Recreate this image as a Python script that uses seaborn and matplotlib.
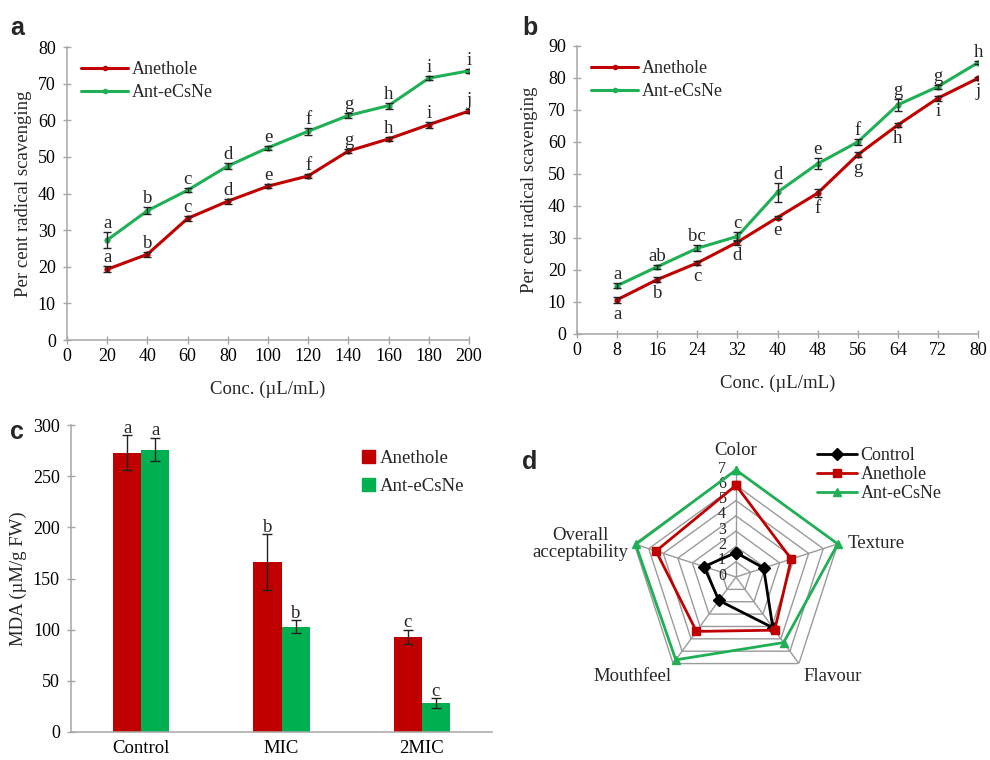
import numpy as np
import pandas as pd
import matplotlib
matplotlib.use("Agg")
import matplotlib.pyplot as plt
from matplotlib.lines import Line2D
from matplotlib.patches import Patch
import seaborn as sns

# ---------------- data ----------------
series_names = ["Anethole", "Ant-eCsNe"]

# panel a
conc_a = [20, 40, 60, 80, 100, 120, 140, 160, 180, 200]
a_anethole = [19.3, 23.4, 33.2, 37.9, 42.0, 44.8, 51.6, 54.9, 58.8, 62.5]
a_anethole_err = [0.8, 0.7, 0.6, 0.7, 0.5, 0.5, 0.6, 0.6, 0.8, 0.5]
a_ant = [27.3, 35.3, 40.9, 47.5, 52.5, 57.0, 61.3, 64.0, 71.5, 73.5]
a_ant_err = [2.2, 1.0, 0.6, 0.7, 0.5, 1.0, 0.8, 0.8, 0.5, 0.5]
a_anethole_letters = ["a", "b", "c", "d", "e", "f", "g", "h", "i", "j"]
a_ant_letters = ["a", "b", "c", "d", "e", "f", "g", "h", "i", "i"]

# panel b
conc_b = [8, 16, 24, 32, 40, 48, 56, 64, 72, 80]
b_anethole = [10.7, 17.0, 22.2, 28.7, 36.4, 44.0, 56.0, 65.3, 73.7, 79.9]
b_anethole_err = [1.0, 0.7, 0.7, 0.8, 0.6, 1.2, 0.8, 0.6, 0.8, 0.5]
b_ant = [15.1, 21.0, 26.8, 30.5, 44.3, 53.2, 60.0, 71.6, 77.3, 84.8]
b_ant_err = [0.8, 0.7, 1.0, 1.5, 2.9, 1.7, 1.0, 1.8, 0.6, 0.5]
b_anethole_letters = ["a", "b", "c", "d", "e", "f", "g", "h", "i", "j"]
b_ant_letters = ["a", "ab", "bc", "c", "d", "e", "f", "g", "g", "h"]

# panel c
treatments = ["Control", "MIC", "2MIC"]
c_anethole = [273, 166, 93]
c_anethole_err = [17, 27, 7]
c_ant = [276, 103, 28]
c_ant_err = [11.5, 6, 5]
c_anethole_letters = ["a", "b", "c"]
c_ant_letters = ["a", "b", "c"]

# panel d
attributes = ["Color", "Texture", "Flavour", "Mouthfeel", "Overall\nacceptability"]
radar_series = ["Control", "Anethole", "Ant-eCsNe"]
d_control = [1.6, 1.9, 4.1, 1.9, 2.2]
d_anethole = [6.0, 3.8, 4.3, 4.4, 5.5]
d_ant = [7.0, 7.0, 5.3, 6.7, 6.9]
radar_ticks = [0, 1, 2, 3, 4, 5, 6, 7]

RED = "#C00000"
GREEN = "#1FAF55"
BAR_GREEN = "#00B050"
AXGRAY = "#A6A6A6"

TICK_FS = 13
LABEL_FS = 13.5
LEG_FS = 13
LET_FS = 13.5

# ---------------- style ----------------
sns.set_style("ticks")
plt.rcParams["font.family"] = ["Liberation Serif", "DejaVu Serif"]
plt.rcParams["font.size"] = 12
plt.rcParams["axes.edgecolor"] = AXGRAY
plt.rcParams["xtick.color"] = AXGRAY
plt.rcParams["ytick.color"] = AXGRAY
plt.rcParams["xtick.labelcolor"] = "black"
plt.rcParams["ytick.labelcolor"] = "black"

fig = plt.figure(figsize=(9.9, 7.6), dpi=100)
W, H = 990.0, 760.0


def add_ax(left, top, right, bottom, **kw):
    return fig.add_axes([left / W, 1 - bottom / H, (right - left) / W, (bottom - top) / H], **kw)


def style_axes(ax):
    sns.despine(ax=ax)
    ax.tick_params(axis="both", direction="inout", length=6, width=1, labelsize=TICK_FS, pad=3)
    ax.tick_params(axis="y", pad=5)
    for s in ("left", "bottom"):
        ax.spines[s].set_linewidth(1.1)


def line_panel(ax, conc, s1, e1, s2, e2, l1, l2, below1):
    df = pd.DataFrame({
        "conc": list(conc) * 2,
        "value": list(s1) + list(s2),
        "series": [series_names[0]] * len(conc) + [series_names[1]] * len(conc),
    })
    sns.lineplot(data=df, x="conc", y="value", hue="series",
                 palette={series_names[0]: RED, series_names[1]: GREEN},
                 marker="o", markersize=4.5, markeredgewidth=0, linewidth=2.2,
                 ax=ax, legend=False, zorder=3)
    for vals, errs in ((s1, e1), (s2, e2)):
        ax.errorbar(conc, vals, yerr=errs, fmt="none", ecolor="#222222",
                    elinewidth=1, capsize=3, capthick=1, zorder=4)
    for x, v, e, t in zip(conc, s1, e1, l1):
        if below1:
            ax.annotate(t, (x, v - e), xytext=(0, -2), textcoords="offset points",
                        ha="center", va="top", fontsize=LET_FS)
        else:
            ax.annotate(t, (x, v + e), xytext=(0, 0), textcoords="offset points",
                        ha="center", va="bottom", fontsize=LET_FS)
    for x, v, e, t in zip(conc, s2, e2, l2):
        ax.annotate(t, (x, v + e), xytext=(0, 0), textcoords="offset points",
                    ha="center", va="bottom", fontsize=LET_FS)
    handles = [Line2D([0], [0], color=RED, lw=2.2, marker="o", ms=4, mew=0),
               Line2D([0], [0], color=GREEN, lw=2.2, marker="o", ms=4, mew=0)]
    ax.legend(handles, series_names, loc="upper left", bbox_to_anchor=(0.0, 1.0),
              frameon=False, fontsize=LEG_FS, handlelength=2.6, handletextpad=0.2,
              labelspacing=0.3, borderaxespad=0.4)
    style_axes(ax)
    ax.set_xlabel("Conc. (\u00b5L/mL)", fontsize=LABEL_FS, labelpad=11)
    ax.set_ylabel("Per cent radical scavenging", fontsize=LABEL_FS, labelpad=4)


# ---------------- panel a ----------------
ax_a = add_ax(67, 47, 469, 340)
line_panel(ax_a, conc_a, a_anethole, a_anethole_err, a_ant, a_ant_err,
           a_anethole_letters, a_ant_letters, below1=False)
ax_a.set_xlim(0, 200)
ax_a.set_ylim(0, 80)
ax_a.set_xticks(np.arange(0, 201, 20))
ax_a.set_yticks(np.arange(0, 81, 10))

# ---------------- panel b ----------------
ax_b = add_ax(577, 46, 978, 334)
line_panel(ax_b, conc_b, b_anethole, b_anethole_err, b_ant, b_ant_err,
           b_anethole_letters, b_ant_letters, below1=True)
ax_b.set_xlim(0, 80)
ax_b.set_ylim(0, 90)
ax_b.set_xticks(np.arange(0, 81, 8))
ax_b.set_yticks(np.arange(0, 91, 10))
ax_b.yaxis.labelpad = 7

# ---------------- panel c ----------------
ax_c = add_ax(71, 425, 492, 732)
dfc = pd.DataFrame({
    "treatment": treatments * 2,
    "MDA": c_anethole + c_ant,
    "series": [series_names[0]] * 3 + [series_names[1]] * 3,
})
sns.barplot(data=dfc, x="treatment", y="MDA", hue="series",
            palette={series_names[0]: RED, series_names[1]: BAR_GREEN},
            width=0.4, gap=0, errorbar=None, ax=ax_c, legend=False,
            saturation=1, linewidth=0)
for patch_group, vals, errs, lets in ((ax_c.patches[:3], c_anethole, c_anethole_err, c_anethole_letters),
                                      (ax_c.patches[3:6], c_ant, c_ant_err, c_ant_letters)):
    xs = [p.get_x() + p.get_width() / 2 for p in patch_group]
    ax_c.errorbar(xs, vals, yerr=errs, fmt="none", ecolor="#222222",
                  elinewidth=1, capsize=3.5, capthick=1)
    for x, v, e, t in zip(xs, vals, errs, lets):
        ax_c.annotate(t, (x, v + e), xytext=(0, -1), textcoords="offset points",
                      ha="center", va="bottom", fontsize=LET_FS)
ax_c.set_xlim(-0.5, 2.5)
ax_c.set_ylim(0, 300)
ax_c.set_yticks(np.arange(0, 301, 50))
style_axes(ax_c)
ax_c.tick_params(axis="x", length=0, pad=6, labelsize=TICK_FS + 0.5)
ax_c.set_xlabel("")
ax_c.set_ylabel("MDA (\u00b5M/g FW)", fontsize=LABEL_FS, labelpad=4)
hc = [Patch(color=RED), Patch(color=BAR_GREEN)]
ax_c.legend(hc, series_names, loc="upper left", bbox_to_anchor=(0.65, 0.975),
            frameon=False, fontsize=LEG_FS + 0.5, handlelength=0.7, handleheight=0.7,
            handletextpad=0.3, labelspacing=0.6)

# ---------------- panel d (radar) ----------------
cx, cy, R = 736, 577, 107
ax_d = add_ax(cx - R, cy - R, cx + R, cy + R, projection="polar")
n = len(attributes)
theta = np.arange(n) * 2 * np.pi / n
theta_c = np.append(theta, theta[0])
ax_d.set_theta_offset(np.pi / 2)
ax_d.set_theta_direction(-1)
ax_d.set_ylim(0, 7)
ax_d.grid(False)
ax_d.spines["polar"].set_visible(False)
ax_d.set_xticks([])
ax_d.set_yticks([])
ax_d.set_facecolor("none")
for r in radar_ticks[1:]:
    ax_d.plot(theta_c, [r] * (n + 1), color="#9A9A9A", lw=1.0, zorder=1)
for t in theta:
    ax_d.plot([t, t], [0, 7], color="#9A9A9A", lw=1.0, zorder=1)
for r in radar_ticks:
    ax_d.annotate(str(r), (0, r), xytext=(-10, 1), textcoords="offset points",
                  ha="center", va="center", fontsize=11.5, zorder=2)
radar_vals = [d_control, d_anethole, d_ant]
radar_cols = ["black", RED, GREEN]
radar_marks = ["D", "s", "^"]
for vals, col, mk in zip(radar_vals, radar_cols, radar_marks):
    v = np.append(vals, vals[0])
    ax_d.plot(theta_c, v, color=col, lw=2, marker=mk, ms=6, zorder=3, clip_on=False)
label_specs = [
    ((0, 8), "center", "bottom"),
    ((7, 0), "left", "center"),
    ((3, -3), "left", "top"),
    ((-1, -3), "right", "top"),
    ((-4, 0), "right", "center"),
]
for t, name, (off, ha, va) in zip(theta, attributes, label_specs):
    ax_d.annotate(name, (t, 7), xytext=off, textcoords="offset points",
                  ha=ha, va=va, fontsize=LEG_FS + 0.5, multialignment="center",
                  linespacing=1.0, annotation_clip=False)
hd = [Line2D([0], [0], color=c, lw=2, marker=m, ms=6) for c, m in zip(radar_cols, radar_marks)]
fig.legend(hd, radar_series, loc="upper left", bbox_to_anchor=(810 / W, 1 - 440 / H),
           frameon=False, fontsize=LEG_FS, handlelength=2.2, handletextpad=0.2,
           labelspacing=0.1, borderaxespad=0)

# ---------------- panel letters ----------------
for lab, x, y in (("a", 10, 28), ("b", 522, 28), ("c", 10, 432), ("d", 522, 462)):
    fig.text(x / W, 1 - y / H, lab, fontsize=18, fontweight="bold",
             family=["Liberation Sans", "DejaVu Sans"], ha="left", va="center")

fig.savefig("out.png", dpi=100)
